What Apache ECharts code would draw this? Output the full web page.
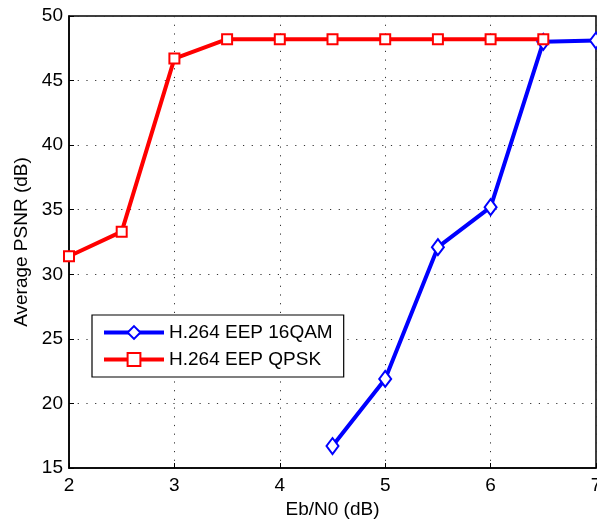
<!DOCTYPE html>
<html><head><meta charset="utf-8">
<script src="https://cdn.jsdelivr.net/npm/echarts@6/dist/echarts.min.js"></script>
<style>html,body{margin:0;padding:0;background:#fff}#c{width:597px;height:519px}</style>
</head><body><div id="c"></div>
<script>
const xQam = [4.5, 5, 5.5, 6, 6.5, 7];
const yQam = [16.7, 21.9, 32.1, 35.2, 48.0, 48.1];
const xQpsk = [2, 2.5, 3, 3.5, 4, 4.5, 5, 5.5, 6, 6.5];
const yQpsk = [31.4, 33.3, 46.7, 48.2, 48.2, 48.2, 48.2, 48.2, 48.2, 48.2];
const seriesNames = ['H.264 EEP 16QAM', 'H.264 EEP QPSK'];
const xTitle = 'Eb/N0 (dB)';
const yTitle = 'Average PSNR (dB)';

const font = 'Liberation Sans, Arial, Helvetica, sans-serif';
const chart = echarts.init(document.getElementById('c'));
const gridLine = {show: true, lineStyle: {color: '#333', type: [1.2, 7.5], width: 1}};
chart.setOption({
  animation: false,
  backgroundColor: '#fff',
  grid: {left: 69, right: 1, top: 16, bottom: 51, containLabel: false, outerBoundsMode: 'none',
         show: true, borderColor: '#000', borderWidth: 1.5, backgroundColor: 'transparent'},
  xAxis: {
    type: 'value', min: 2, max: 7, interval: 1,
    name: xTitle, nameLocation: 'middle', nameGap: 29,
    nameTextStyle: {fontFamily: font, fontSize: 19, color: '#000'},
    axisLine: {lineStyle: {color: '#000', width: 1.5}},
    axisTick: {inside: true, length: 5, lineStyle: {color: '#000'}},
    axisLabel: {fontFamily: font, fontSize: 19, color: '#000', margin: 8},
    splitLine: gridLine
  },
  yAxis: {
    type: 'value', min: 15, max: 50, interval: 5,
    name: yTitle, nameLocation: 'middle', nameGap: 36,
    nameTextStyle: {fontFamily: font, fontSize: 19, color: '#000'},
    axisLine: {lineStyle: {color: '#000', width: 1.5}},
    axisTick: {inside: true, length: 5, lineStyle: {color: '#000'}},
    axisLabel: {fontFamily: font, fontSize: 19, color: '#000', margin: 6},
    splitLine: gridLine
  },
  legend: {
    orient: 'vertical', left: 92, top: 315,
    padding: [8, 11, 8, 10], itemGap: 8,
    backgroundColor: '#fff', borderColor: '#000', borderWidth: 1.2,
    itemWidth: 60, itemHeight: 16,
    lineStyle: {width: 4},
    itemStyle: {borderWidth: 3},
    textStyle: {fontFamily: font, fontSize: 19, color: '#000'},
    data: seriesNames
  },
  series: [
    {
      name: seriesNames[0], type: 'line',
      data: xQam.map((x, i) => [x, yQam[i]]),
      symbol: 'emptyDiamond', symbolSize: [12, 16],
      lineStyle: {color: '#0000ff', width: 4},
      itemStyle: {color: '#0000ff', borderColor: '#0000ff', borderWidth: 3},
      clip: true
    },
    {
      name: seriesNames[1], type: 'line',
      data: xQpsk.map((x, i) => [x, yQpsk[i]]),
      symbol: 'emptyRect', symbolSize: 10,
      lineStyle: {color: '#ff0000', width: 4},
      itemStyle: {color: '#ff0000', borderColor: '#ff0000', borderWidth: 3},
      clip: true
    }
  ]
});
</script></body></html>
